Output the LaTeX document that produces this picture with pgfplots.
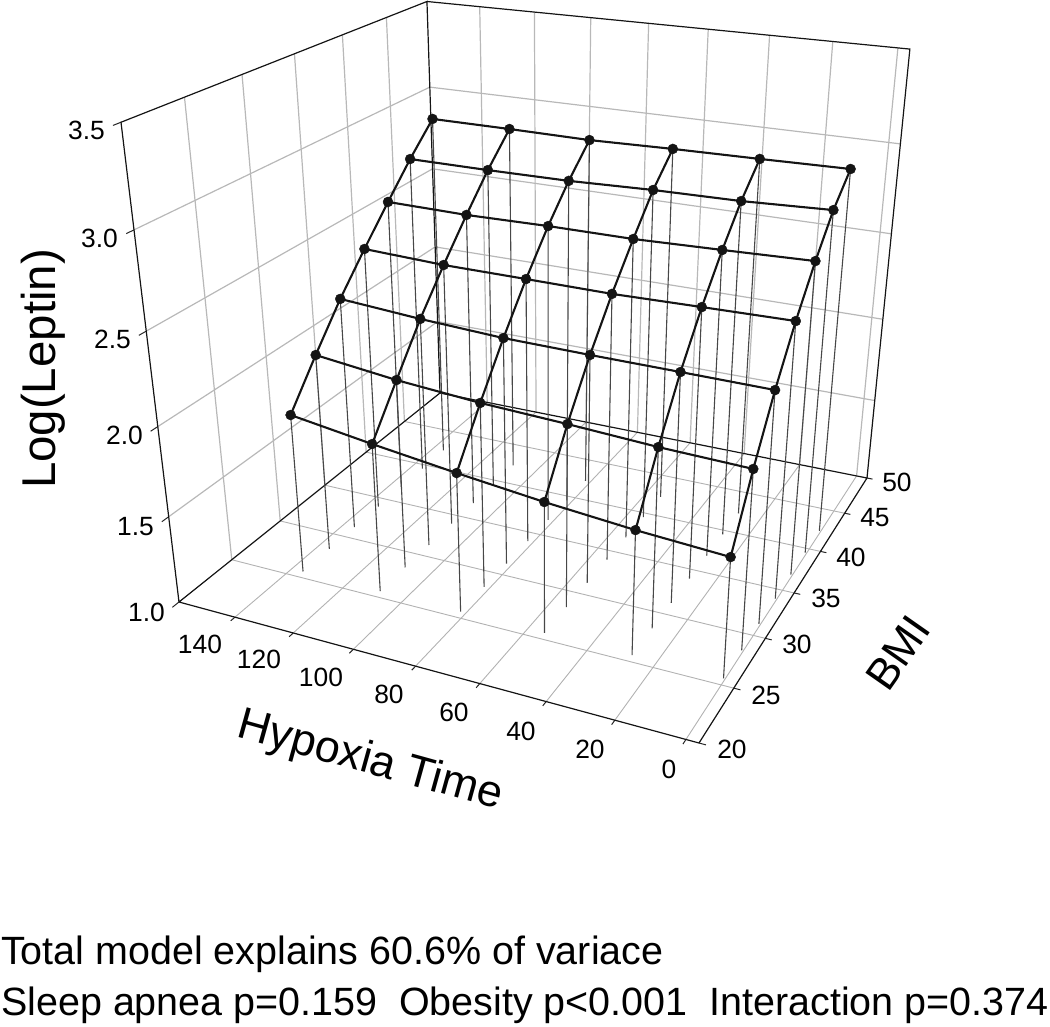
\documentclass[border=0pt]{standalone}
\usepackage{fontspec}
\setmainfont{Liberation Sans}
\usepackage{pgfplots}
\usepackage{pgfplotstable}
\pgfplotsset{compat=1.18}
\pgfplotstableread{
i j x y z
5 0 136.0 25.6 1.917
4 0 108.9 25.6 1.852
3 0 81.8 25.6 1.793
2 0 54.7 25.6 1.740
1 0 27.6 25.6 1.698
0 0 0.5 25.6 1.668
5 1 136.0 28.4 2.142
4 1 108.9 28.4 2.091
3 1 81.8 28.4 2.057
2 1 54.7 28.4 2.037
1 1 27.6 28.4 2.012
0 1 0.5 28.4 1.998
5 2 136.0 31.2 2.354
4 2 108.9 31.2 2.323
3 2 81.8 31.2 2.301
2 2 54.7 31.2 2.295
1 2 27.6 31.2 2.292
0 2 0.5 31.2 2.288
5 3 136.0 34.0 2.540
4 3 108.9 34.0 2.524
3 3 81.8 34.0 2.522
2 3 54.7 34.0 2.519
1 3 27.6 34.0 2.528
0 3 0.5 34.0 2.536
5 4 136.0 36.8 2.718
4 4 108.9 36.8 2.712
3 4 81.8 36.8 2.719
2 4 54.7 36.8 2.719
1 4 27.6 36.8 2.732
0 4 0.5 36.8 2.747
5 5 136.0 39.5 2.883
4 5 108.9 39.5 2.882
3 5 81.8 39.5 2.885
2 5 54.7 39.5 2.899
1 5 27.6 39.5 2.905
0 5 0.5 39.5 2.924
5 6 136.0 42.3 3.037
4 6 108.9 42.3 3.036
3 6 81.8 42.3 3.032
2 6 54.7 42.3 3.042
1 6 27.6 42.3 3.048
0 6 0.5 42.3 3.056
}\surf
\pgfplotsset{
  table/proj/.style={
    x expr={px(\thisrow{x},\thisrow{y},\thisrow{z})},
    y expr={py(\thisrow{x},\thisrow{y},\thisrow{z})}},
  gridl/.style={no marks,line width=1.2bp,color=black!28},
  floorl/.style={no marks,line width=0.9bp,color=black!30},
  edge/.style={no marks,line width=1.2bp,color=black!92},
  tickl/.style={no marks,line width=1bp,color=black!85},
}
\newcommand{\lab}[1]{\fontsize{26.5}{28}\selectfont #1}
\newcommand{\bigt}[1]{\fontsize{47.6}{50}\selectfont #1}
\begin{document}
\begin{tikzpicture}
\path[use as bounding box] (0,0) rectangle (1050bp,1027bp);
\begin{axis}[
  at={(0,0)},anchor=south west,
  scale only axis,width=1050bp,height=1027bp,
  xmin=0,xmax=1050,ymin=0,ymax=1027,y dir=reverse,
  hide axis,clip=false,
  declare function={
    pu(\a)=(\a+3.6)/163.4;
    pv(\b)=(\b-20)/30;
    pw(\c)=(\c-1)/2.5;
    pd(\a,\b,\c)=1+0.1436*pu(\a)+0.3056*pv(\b)-0.155*pw(\c);
    px(\a,\b,\c)=(699-494.30*pu(\a)+432.96*pv(\b)-85.08*pw(\c))/pd(\a,\b,\c);
    py(\a,\b,\c)=(743-54.55*pu(\a)-118.92*pv(\b)-567.6*pw(\c))/pd(\a,\b,\c);
  },
]
% floor grid
\pgfplotsinvokeforeach{0,20,40,60,80,100,120,140}{
  \addplot[floorl] table[proj,row sep=\\]{x y z\\ #1 20 1\\ #1 50 1\\};
  \addplot[gridl] table[proj,row sep=\\]{x y z\\ #1 50 1\\ #1 50 3.5\\};
  \addplot[tickl] table[proj,row sep=\\]{x y z\\ #1 19.6 1\\ #1 20 1\\};
}
\pgfplotsinvokeforeach{25,30,35,40,45}{
  \addplot[floorl] table[proj,row sep=\\]{x y z\\ -3.6 #1 1\\ 159.8 #1 1\\};
  \addplot[gridl] table[proj,row sep=\\]{x y z\\ 159.8 #1 1\\ 159.8 #1 3.5\\};
}
\pgfplotsinvokeforeach{20,25,30,35,40,45,50}{
  \addplot[tickl] table[proj,row sep=\\]{x y z\\ -5.5 #1 1\\ -3.6 #1 1\\};
}
\pgfplotsinvokeforeach{1.5,2.0,2.5,3.0}{
  \addplot[gridl] table[proj,row sep=\\]{x y z\\ 159.8 20 #1\\ 159.8 50 #1\\ -3.6 50 #1\\};
}
\pgfplotsinvokeforeach{1.0,1.5,2.0,2.5,3.0,3.5}{
  \addplot[tickl] table[proj,row sep=\\]{x y z\\ 159.8 19.4 #1\\ 159.8 20 #1\\};
}
% box edges
\addplot[edge] table[proj,row sep=\\]{x y z\\ 159.8 50 1\\ 159.8 20 1\\ -3.6 20 1\\ -3.6 50 1\\ 159.8 50 1\\ 159.8 50 3.5\\ 159.8 20 3.5\\ 159.8 20 1\\};
\addplot[edge] table[proj,row sep=\\]{x y z\\ 159.8 50 3.5\\ -3.6 50 3.5\\ -3.6 50 1\\};
% drop lines
\addplot[no marks,-,line width=1.1bp,color=black!72,
  quiver={
    u={px(\thisrow{x},\thisrow{y},1)-px(\thisrow{x},\thisrow{y},\thisrow{z})},
    v={py(\thisrow{x},\thisrow{y},1)-py(\thisrow{x},\thisrow{y},\thisrow{z})}}]
  table[proj]{\surf};
% surface wireframe
\pgfplotsinvokeforeach{0,1,2,3,4,5,6}{
  \addplot[no marks,line width=2.1bp,color=black!92,restrict expr to domain={\thisrow{j}}{#1:#1},unbounded coords=discard] table[proj]{\surf};
}
\pgfplotsinvokeforeach{0,1,2,3,4,5}{
  \addplot[no marks,line width=2.1bp,color=black!92,restrict expr to domain={\thisrow{i}}{#1:#1},unbounded coords=discard] table[proj]{\surf};
}
\addplot[only marks,mark=*,mark size=5bp,color=black!92,mark options={fill=black!92,draw=black!92}] table[proj]{\surf};
% z tick labels
\node[anchor=east,inner sep=0] at (axis cs:105,130) {\lab{3.5}};
\node[anchor=east,inner sep=0] at (axis cs:118,238) {\lab{3.0}};
\node[anchor=east,inner sep=0] at (axis cs:131,339) {\lab{2.5}};
\node[anchor=east,inner sep=0] at (axis cs:143,435) {\lab{2.0}};
\node[anchor=east,inner sep=0] at (axis cs:154,527) {\lab{1.5}};
\node[anchor=east,inner sep=0] at (axis cs:165,612) {\lab{1.0}};
% x tick labels
\node at (axis cs:200,644) {\lab{140}};
\node at (axis cs:259,659) {\lab{120}};
\node at (axis cs:321,677) {\lab{100}};
\node at (axis cs:389,694) {\lab{80}};
\node at (axis cs:454,712) {\lab{60}};
\node at (axis cs:521,731) {\lab{40}};
\node at (axis cs:590,749) {\lab{20}};
\node at (axis cs:669,769) {\lab{0}};
% y tick labels
\node at (axis cs:732,749) {\lab{20}};
\node at (axis cs:766,695) {\lab{25}};
\node at (axis cs:797,644) {\lab{30}};
\node at (axis cs:826,598) {\lab{35}};
\node at (axis cs:851,557) {\lab{40}};
\node at (axis cs:875,518) {\lab{45}};
\node at (axis cs:897,482) {\lab{50}};
% axis titles
\node[rotate=90] at (axis cs:43,369) {\bigt{Log(Leptin)}};
\node[rotate=-15.5] at (axis cs:370,762) {\fontsize{45}{48}\selectfont Hypoxia Time};
\node[rotate=55] at (axis cs:898,653) {\fontsize{44}{46}\selectfont BMI};
% notes
\node[anchor=base west,inner sep=0] at (axis cs:1,964) {\fontsize{39.6}{42}\selectfont Total model explains 60.6\% of variace};
\node[anchor=base west,inner sep=0] at (axis cs:1,1015) {\fontsize{39.6}{42}\selectfont Sleep apnea p=0.159\ \ Obesity p<0.001\ \ Interaction p=0.374};
\end{axis}
\end{tikzpicture}
\end{document}
